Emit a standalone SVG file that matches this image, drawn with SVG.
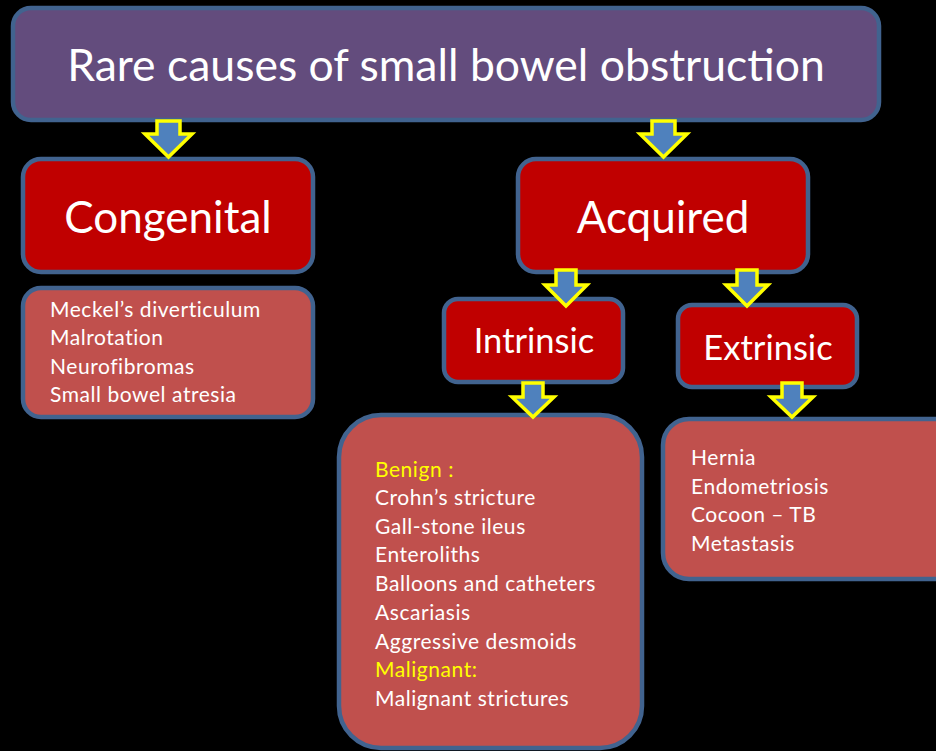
<svg xmlns="http://www.w3.org/2000/svg" width="936" height="751" viewBox="0 0 936 751">
<defs>
<style>
.box{stroke:#41638f;stroke-width:4.5}
.title{fill:#634c7d}
.head{fill:#c00000}
.list{fill:#c0504d}
text{font-family:Lato,"Liberation Sans",sans-serif;fill:#ffffff}
.big{font-size:44.5px}
.mid{font-size:44px;text-anchor:middle}
.sub{font-size:34.5px;text-anchor:middle}
.item{font-size:21px;letter-spacing:0.55px}
.y{fill:#ffff00}
.arrow{fill:#4f81bd;stroke:#ffff00;stroke-width:3.5;stroke-linejoin:miter}
</style>
</defs>
<rect width="936" height="751" fill="#000"/>
<g id="title">
<rect class="box title" x="13" y="8" width="866" height="112" rx="18"/>
<text class="big" x="446" y="81" text-anchor="middle">Rare causes of small bowel obstruction</text>
</g>
<g id="congenital">
<rect class="box head" x="23" y="159" width="290" height="113" rx="18"/>
<text class="mid" x="168" y="233">Congenital</text>
</g>
<g id="congenital-list">
<rect class="box list" x="23" y="288" width="290" height="129" rx="18"/>
<text class="item" x="50" y="317">Meckel’s diverticulum</text>
<text class="item" x="50" y="345">Malrotation</text>
<text class="item" x="50" y="374">Neurofibromas</text>
<text class="item" x="50" y="402">Small bowel atresia</text>
</g>
<g id="acquired">
<rect class="box head" x="518" y="159" width="290" height="113" rx="18"/>
<text class="mid" x="663" y="233">Acquired</text>
</g>
<g id="intrinsic">
<rect class="box head" x="444" y="299" width="179" height="83" rx="14"/>
<text class="sub" x="534" y="353">Intrinsic</text>
</g>
<g id="extrinsic">
<rect class="box head" x="678" y="305" width="179" height="82" rx="14"/>
<text class="sub" x="768" y="360">Extrinsic</text>
</g>
<g id="intrinsic-list">
<rect class="box list" x="339" y="415" width="303" height="333" rx="42"/>
<text class="item y" x="375" y="477">Benign :</text>
<text class="item" x="375" y="505">Crohn’s stricture</text>
<text class="item" x="375" y="534">Gall-stone ileus</text>
<text class="item" x="375" y="562">Enteroliths</text>
<text class="item" x="375" y="591">Balloons and catheters</text>
<text class="item" x="375" y="620">Ascariasis</text>
<text class="item" x="375" y="649">Aggressive desmoids</text>
<text class="item y" x="375" y="677">Malignant:</text>
<text class="item" x="375" y="706">Malignant strictures</text>
</g>
<g id="extrinsic-list">
<rect class="box list" x="663" y="419" width="300" height="160" rx="26"/>
<text class="item" x="691" y="465">Hernia</text>
<text class="item" x="691" y="494">Endometriosis</text>
<text class="item" x="691" y="522">Cocoon – TB</text>
<text class="item" x="691" y="551">Metastasis</text>
</g>
<g id="connectors">
<path class="arrow" d="M157,121 H180 V134 H192 L168.5,157 L145,134 H157 Z"/>
<path class="arrow" d="M652,121 H675 V134 H687 L663.5,157 L640,134 H652 Z"/>
<path class="arrow" d="M556,270 H576 V285 H587 L566,306 L545,285 H556 Z"/>
<path class="arrow" d="M737,270 H757 V285 H768 L747,306 L726,285 H737 Z"/>
<path class="arrow" d="M523,383 H543 V397 H554 L533,417 L512,397 H523 Z"/>
<path class="arrow" d="M782,383 H802 V397 H813 L792,417 L771,397 H782 Z"/>
</g>
</svg>
